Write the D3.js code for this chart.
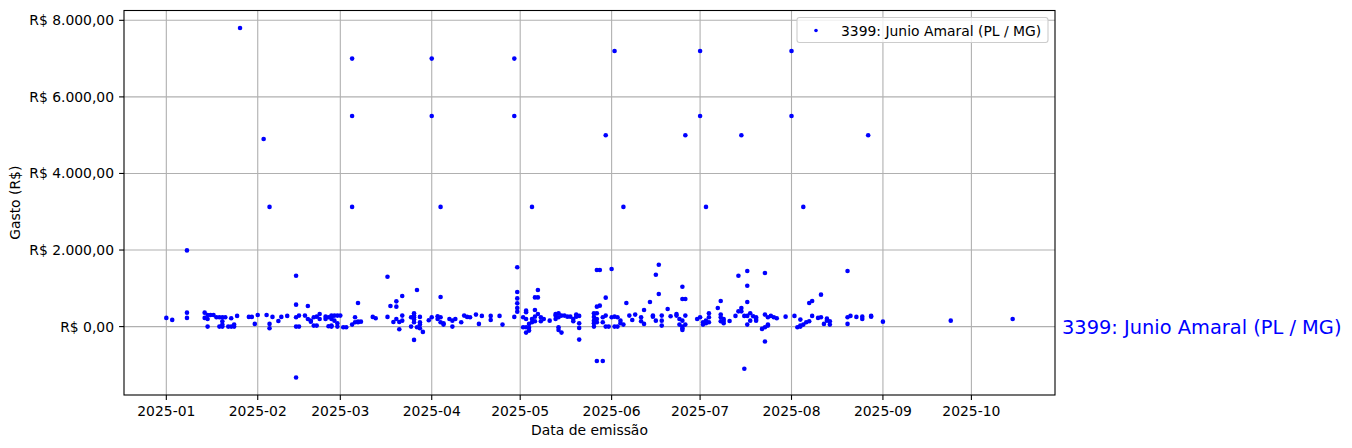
<!DOCTYPE html>
<html><head><meta charset="utf-8">
<script src="https://cdn.jsdelivr.net/npm/d3@7"></script>
<style>body{margin:0;background:#fff} text{font-family:"DejaVu Sans",sans-serif}</style>
</head><body><svg id="c" width="1352" height="448"></svg>
<script>
// [day of month, value in R$] per month of 2025
const jan = [[1,227],[3,175],[8,1990],[8,365],[8,227],[14,365],[14,227],[15,305],[16,305],[15,200],[15,0],[17,305],[18,243],[19,243],[19,0],[20,243],[20,138],[20,52],[20,0],[21,243],[22,0],[23,0],[23,217],[24,0],[24,52],[25,280],[26,7800],[29,253],[30,253],[31,70]];
const feb = [[1,305],[3,4900],[4,305],[5,3127],[5,70],[5,-44],[6,253],[8,148],[9,253],[11,280],[14,1329],[14,573],[14,243],[14,-1330],[14,0],[15,0],[15,287],[17,287],[18,539],[18,200],[19,156],[19,130],[20,26],[20,243],[21,26],[21,260],[22,330],[22,200],[24,260],[24,200],[25,10],[25,243],[26,0],[26,200],[26,26],[26,243],[26,287],[27,287],[27,156],[28,287],[28,86],[28,0]];
const mar = [[1,287],[2,-17],[3,-17],[5,52],[5,7000],[5,5500],[5,3127],[6,243],[6,112],[7,130],[7,618],[7,112],[8,130],[12,253],[13,217],[17,253],[17,1303],[18,539],[19,122],[20,200],[20,660],[20,521],[21,122],[21,-70],[22,156],[22,287],[22,800],[25,243],[25,0],[26,347],[26,287],[26,243],[26,183],[26,112],[26,-347],[27,956],[27,-17],[28,-44],[28,112],[28,253],[28,52],[29,-138],[31,165]];
const apr = [[1,243],[1,7000],[1,5500],[3,269],[3,200],[4,243],[4,112],[4,3127],[4,774],[5,86],[5,52],[7,200],[8,156],[8,0],[9,200],[11,112],[12,287],[13,253],[14,243],[16,313],[17,70],[18,280],[21,280],[21,174],[24,280],[25,52],[29,7000],[29,5500],[29,253],[30,1550],[30,904],[30,737],[30,607],[30,487],[30,391]];
const may = [[2,243],[2,-17],[3,417],[3,-156],[3,373],[3,200],[3,-17],[4,-30],[4,-104],[4,70],[5,200],[5,112],[5,3127],[6,138],[6,763],[6,435],[6,260],[7,763],[7,956],[7,330],[8,243],[8,138],[9,200],[11,156],[13,200],[13,330],[13,287],[14,347],[14,243],[14,-17],[14,-86],[15,-156],[15,287],[16,287],[17,260],[18,260],[19,200],[19,138],[20,260],[20,313],[21,280],[21,86],[21,-34],[21,-339],[26,86],[26,0],[26,253],[26,347],[26,156],[27,200],[27,112],[27,1477],[27,521],[27,347],[27,-900],[28,547],[28,1477],[29,-900],[29,243],[29,112],[30,756],[30,5000],[30,0],[30,287],[31,0]];
const jun = [[1,1503],[1,243],[2,7200],[2,0],[2,260],[3,243],[3,0],[4,156],[4,86],[5,3127],[5,52],[6,618],[7,287],[8,174],[9,313],[11,243],[11,138],[12,435],[12,70],[14,643],[15,287],[15,260],[16,156],[16,1355],[17,1616],[17,852],[18,287],[18,156],[18,26],[20,461],[21,269],[23,330],[23,287],[24,200],[24,52],[25,156],[25,1042],[25,722],[25,0],[25,-86],[25,-40],[26,722],[26,287],[26,52],[26,5000],[30,200]];
const jul = [[1,243],[1,7200],[1,5500],[2,52],[2,112],[3,86],[3,3127],[3,156],[4,347],[4,243],[4,112],[7,487],[8,669],[8,313],[8,243],[8,138],[9,200],[9,148],[9,86],[11,148],[13,280],[14,1329],[14,399],[15,487],[15,399],[15,5000],[16,280],[16,-1100],[17,1451],[17,1068],[17,52],[17,643],[17,280],[18,347],[18,156],[19,270],[20,243],[20,200],[20,156],[22,-60],[23,1399],[23,313],[23,-391],[23,-17],[24,52],[24,26],[24,243],[25,280],[26,243],[27,217],[30,260]];
const aug = [[1,7200],[1,5500],[2,280],[3,-17],[4,183],[4,0],[4,26],[5,3127],[5,52],[6,112],[7,138],[7,618],[8,669],[8,280],[10,227],[11,834],[11,243],[12,70],[13,208],[13,156],[14,138],[14,52],[20,1451],[20,243],[20,70],[21,280],[23,253],[25,260],[25,200],[27,5000],[28,280],[28,260]];
const sep = [[1,130],[24,156]];
const oct = [[15,200]];
const monthSeries = [jan, feb, mar, apr, may, jun, jul, aug, sep, oct];

const yTicks = [0, 2000, 4000, 6000, 8000];
const xTickMonths = ["2025-01","2025-02","2025-03","2025-04","2025-05","2025-06","2025-07","2025-08","2025-09","2025-10"];
const seriesName = "3399: Junio Amaral (PL / MG)";

const points = monthSeries.flatMap((arr, m) => arr.map(([d, v]) => ({date: new Date(Date.UTC(2025, m, d)), value: v})));

const svg = d3.select("#c");
const L = 124, R = 1055, T = 10.5, B = 395;
const fs = 13.9;

const [xmin, xmax] = d3.extent(points, p => +p.date);
const xpad = (xmax - xmin) * 0.05;
const x = d3.scaleUtc().domain([new Date(xmin - xpad), new Date(xmax + xpad)]).range([L, R]);
const [ymin, ymax] = d3.extent(points, p => p.value);
const ypad = (ymax - ymin) * 0.05;
const y = d3.scaleLinear().domain([ymin - ypad, ymax + ypad]).range([B, T]);

const loc = d3.formatLocale({decimal: ",", thousands: ".", grouping: [3], currency: ["R$ ", ""]});
const fmt = loc.format("$,.2f");
const parseM = d3.utcParse("%Y-%m");
const xTicks = xTickMonths.map(parseM);

// grid
const g = svg.append("g");
g.selectAll(".gx").data(xTicks).join("line")
  .attr("x1", d => x(d)).attr("x2", d => x(d)).attr("y1", T).attr("y2", B)
  .attr("stroke", "#b0b0b0").attr("stroke-width", 1.1);
g.selectAll(".gy").data(yTicks).join("line")
  .attr("x1", L).attr("x2", R).attr("y1", d => y(d)).attr("y2", d => y(d))
  .attr("stroke", "#b0b0b0").attr("stroke-width", 1.1);

// points
svg.append("g").selectAll("circle").data(points).join("circle")
  .attr("cx", d => x(d.date)).attr("cy", d => y(d.value)).attr("r", 2.3)
  .attr("fill", "#0000ff");

// frame
svg.append("rect").attr("x", L).attr("y", T).attr("width", R - L).attr("height", B - T)
  .attr("fill", "none").attr("stroke", "#000").attr("stroke-width", 1.1);

// ticks
const ax = svg.append("g");
ax.selectAll(".tx").data(xTicks).join("line")
  .attr("x1", d => x(d)).attr("x2", d => x(d)).attr("y1", B).attr("y2", B + 4.9)
  .attr("stroke", "#000").attr("stroke-width", 1.1);
ax.selectAll(".lx").data(xTicks).join("text")
  .attr("x", d => x(d)).attr("y", 416).attr("text-anchor", "middle")
  .attr("font-size", fs).attr("fill", "#000").text(d => d3.utcFormat("%Y-%m")(d));
ax.selectAll(".ty").data(yTicks).join("line")
  .attr("x1", L - 4.9).attr("x2", L).attr("y1", d => y(d)).attr("y2", d => y(d))
  .attr("stroke", "#000").attr("stroke-width", 1.1);
ax.selectAll(".ly").data(yTicks).join("text")
  .attr("x", L - 10).attr("y", d => y(d)).attr("dy", "0.36em").attr("text-anchor", "end")
  .attr("font-size", fs).attr("fill", "#000").text(d => fmt(d));

// axis labels
svg.append("text").attr("x", (L + R) / 2).attr("y", 435).attr("text-anchor", "middle")
  .attr("font-size", fs).text("Data de emissão");
svg.append("text").attr("transform", `translate(20,${(T + B) / 2}) rotate(-90)`)
  .attr("text-anchor", "middle").attr("font-size", fs).text("Gasto (R$)");

// legend
const lg = svg.append("g");
lg.append("rect").attr("x", 797).attr("y", 17.5).attr("width", 251).attr("height", 25).attr("rx", 2.5)
  .attr("fill", "#fff").attr("fill-opacity", 0.8).attr("stroke", "#cccccc").attr("stroke-width", 1.1);
lg.append("circle").attr("cx", 816).attr("cy", 30.5).attr("r", 1.8).attr("fill", "#0000ff");
lg.append("text").attr("x", 841).attr("y", 30.5).attr("dy", "0.36em").attr("font-size", fs).text(seriesName);

// side annotation
svg.append("text").attr("x", 1062).attr("y", y(0)).attr("dy", "0.36em")
  .attr("font-size", 19.4).attr("fill", "#0000ff").text(seriesName);
</script></body></html>
